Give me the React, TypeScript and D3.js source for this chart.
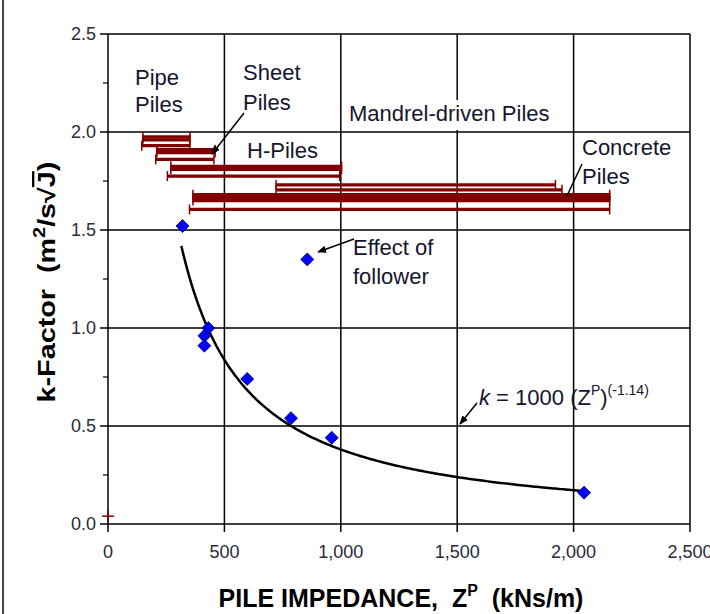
import React from "react";
import * as d3 from "d3";

// Measured k-factor against pile impedance
const impedance = [320, 856, 431, 414, 414, 598, 786, 961, 2045];
const kFactor = [1.52, 1.35, 1.0, 0.96, 0.91, 0.74, 0.54, 0.44, 0.16];

// Impedance ranges of the pile types: [Z min, Z max, k level]
const pipeRanges = [
  [150, 352, 1.975],
  [150, 352, 1.96],
  [145, 352, 1.93],
];
const sheetRanges = [
  [210, 460, 1.91],
  [210, 460, 1.895],
  [205, 455, 1.86],
];
const hPileRanges = [
  [270, 1003, 1.825],
  [270, 1003, 1.81],
  [255, 995, 1.775],
];
const mandrelRanges = [
  [722, 1922, 1.73],
  [722, 1950, 1.705],
];
const concreteRanges = [
  [365, 2155, 1.68],
  [365, 2155, 1.665],
  [365, 2155, 1.65],
  [350, 2155, 1.605],
];

// Origin marker
const originMark = [0, 0.04];

// Fitted curve k = 1000 (Z^P)^(-1.14)
const fitCoef = 1000;
const fitExp = -1.14;
const fitDomain = [315, 2060];

const xTicks = [0, 500, 1000, 1500, 2000, 2500];
const xTickLabels = ["0", "500", "1,000", "1,500", "2,000", "2,500"];
const yTicks = [0, 0.5, 1.0, 1.5, 2.0, 2.5];
const yTickLabels = ["0.0", "0.5", "1.0", "1.5", "2.0", "2.5"];
const yMinorTicks = [0.25, 0.75, 1.25, 1.75, 2.25];

const FONT = "'Liberation Sans', Arial, Helvetica, sans-serif";
const TXT = "#15152e";
const RED = "#800000";

export default function App() {
  const x = d3.scaleLinear().domain([0, 2500]).range([108, 690]);
  const y = d3.scaleLinear().domain([0, 2.5]).range([524, 34]);

  const allRanges = [
    ...pipeRanges,
    ...sheetRanges,
    ...hPileRanges,
    ...mandrelRanges,
    ...concreteRanges,
  ];

  const curvePts: [number, number][] = d3
    .range(0, 201)
    .map((i) => fitDomain[0] + ((fitDomain[1] - fitDomain[0]) * i) / 200)
    .map((z) => [z, fitCoef * Math.pow(z, fitExp)]);
  const line = d3
    .line<[number, number]>()
    .x((d) => x(d[0]))
    .y((d) => y(d[1]))
    .curve(d3.curveBasis);

  const diamond = (cx: number, cy: number, r: number) =>
    `M${cx},${cy - r}L${cx + r},${cy}L${cx},${cy + r}L${cx - r},${cy}Z`;

  return (
    <div style={{ position: "absolute", left: 0, top: 0 }}>
      <svg width={710} height={614} style={{ display: "block", fontFamily: FONT }}>
        <defs>
          <marker
            id="arrow"
            viewBox="0 0 10 10"
            refX="9"
            refY="5"
            markerWidth="9"
            markerHeight="9"
            markerUnits="userSpaceOnUse"
            orient="auto"
          >
            <path d="M0,1 L10,5 L0,9 Z" fill="#000" />
          </marker>
        </defs>
        <rect x={0} y={0} width={710} height={614} fill="#fff" />
        <line x1={3} x2={3} y1={0} y2={614} stroke="#000" strokeWidth={1.5} />

        {/* grid */}
        {xTicks.slice(1).map((t) => (
          <line key={"gx" + t} x1={x(t)} x2={x(t)} y1={y(0)} y2={y(2.5)} stroke="#000" strokeWidth={1.5} />
        ))}
        {yTicks.slice(1).map((t) => (
          <line key={"gy" + t} x1={x(0)} x2={x(2500)} y1={y(t)} y2={y(t)} stroke="#000" strokeWidth={1.5} />
        ))}

        {/* axes */}
        <line x1={x(0)} x2={x(0)} y1={y(0)} y2={y(2.5)} stroke="#000" strokeWidth={1.5} />
        <line x1={x(0)} x2={x(2500)} y1={y(0)} y2={y(0)} stroke="#000" strokeWidth={1.5} />
        {xTicks.map((t) => (
          <line key={"tx" + t} x1={x(t)} x2={x(t)} y1={y(0)} y2={y(0) + 8} stroke="#000" strokeWidth={1.5} />
        ))}
        {yTicks.map((t) => (
          <line key={"ty" + t} x1={x(0) - 8} x2={x(0)} y1={y(t)} y2={y(t)} stroke="#000" strokeWidth={1.5} />
        ))}
        {yMinorTicks.map((t) => (
          <line key={"tm" + t} x1={x(0) - 5} x2={x(0)} y1={y(t)} y2={y(t)} stroke="#000" strokeWidth={1.2} />
        ))}
        {xTicks.map((t, i) => (
          <text key={"lx" + t} x={x(t)} y={558} textAnchor="middle" fontSize={18} fill="#2a2a3a">
            {xTickLabels[i]}
          </text>
        ))}
        {yTicks.map((t, i) => (
          <text key={"ly" + t} x={96} y={y(t) + 6} textAnchor="end" fontSize={18} fill="#2a2a3a">
            {yTickLabels[i]}
          </text>
        ))}

        {/* label box for mandrel-driven piles */}
        <rect x={345} y={100} width={215} height={30} fill="#fff" />

        {/* impedance ranges */}
        {allRanges.map(([a, b, k], i) => (
          <g key={"r" + i} stroke={RED}>
            <line x1={x(a)} x2={x(b)} y1={y(k)} y2={y(k)} strokeWidth={3.3} />
            <line x1={x(a)} x2={x(a)} y1={y(k) - 5} y2={y(k) + 5} strokeWidth={1.5} />
            <line x1={x(b)} x2={x(b)} y1={y(k) - 5} y2={y(k) + 5} strokeWidth={1.5} />
          </g>
        ))}
        <g stroke={RED} strokeWidth={1.5}>
          <line x1={x(originMark[0]) - 6} x2={x(originMark[0]) + 6} y1={y(originMark[1])} y2={y(originMark[1])} />
          <line x1={x(originMark[0])} x2={x(originMark[0])} y1={y(originMark[1]) - 6} y2={y(originMark[1]) + 6} />
        </g>

        {/* fitted curve */}
        <path d={line(curvePts) || ""} fill="none" stroke="#000" strokeWidth={2.5} />

        {/* measurements */}
        {impedance.map((z, i) => (
          <path key={"p" + i} d={diamond(x(z), y(kFactor[i]), 6.5)} fill="#0000ff" stroke="#000050" strokeWidth={0.8} />
        ))}

        {/* annotations */}
        <g fontSize={22} fill={TXT}>
          <text x={135} y={85}>Pipe</text>
          <text x={135} y={112}>Piles</text>
          <text x={243} y={80}>Sheet</text>
          <text x={243} y={110}>Piles</text>
          <text x={349} y={121}>Mandrel-driven Piles</text>
          <text x={247} y={158}>H-Piles</text>
          <text x={582} y={155}>Concrete</text>
          <text x={582} y={184}>Piles</text>
          <text x={353} y={255}>Effect of</text>
          <text x={353} y={284}>follower</text>
          <text x={479} y={405}>
            <tspan fontStyle="italic">k</tspan>
            <tspan> = 1000 (Z</tspan>
            <tspan fontSize={14} dy={-10}>P</tspan>
            <tspan dy={10}>)</tspan>
            <tspan fontSize={14} dy={-10}>(-1.14)</tspan>
          </text>
        </g>
        <g stroke="#000" strokeWidth={1.5} fill="none">
          <line x1={244} y1={113} x2={212} y2={154} markerEnd="url(#arrow)" />
          <line x1={582} y1={164} x2={566} y2={198} />
          <line x1={354} y1={239} x2={318} y2={252} markerEnd="url(#arrow)" />
          <line x1={477} y1={403} x2={460} y2={424} markerEnd="url(#arrow)" />
        </g>

        {/* axis titles */}
        <text
          x={401}
          y={607}
          textAnchor="middle"
          fontSize={25}
          fontWeight="bold"
          fill="#000"
          xmlSpace="preserve"
          style={{ whiteSpace: "pre" }}
        >
          <tspan>PILE IMPEDANCE,  Z</tspan>
          <tspan fontSize={16} dy={-11}>P</tspan>
          <tspan dy={11}>  (kNs/m)</tspan>
        </text>
        <text
          transform="translate(55,282) scale(1,1.25) rotate(-90)"
          textAnchor="middle"
          fontSize={23}
          fontWeight="bold"
          fill="#000"
          xmlSpace="preserve"
          style={{ whiteSpace: "pre" }}
        >
          <tspan>k-Factor  (m</tspan>
          <tspan fontSize={16} dy={-10}>2</tspan>
          <tspan dy={10}>/s√</tspan>
          <tspan style={{ textDecoration: "overline" }}>J</tspan>
          <tspan>)</tspan>
        </text>
      </svg>
    </div>
  );
}
